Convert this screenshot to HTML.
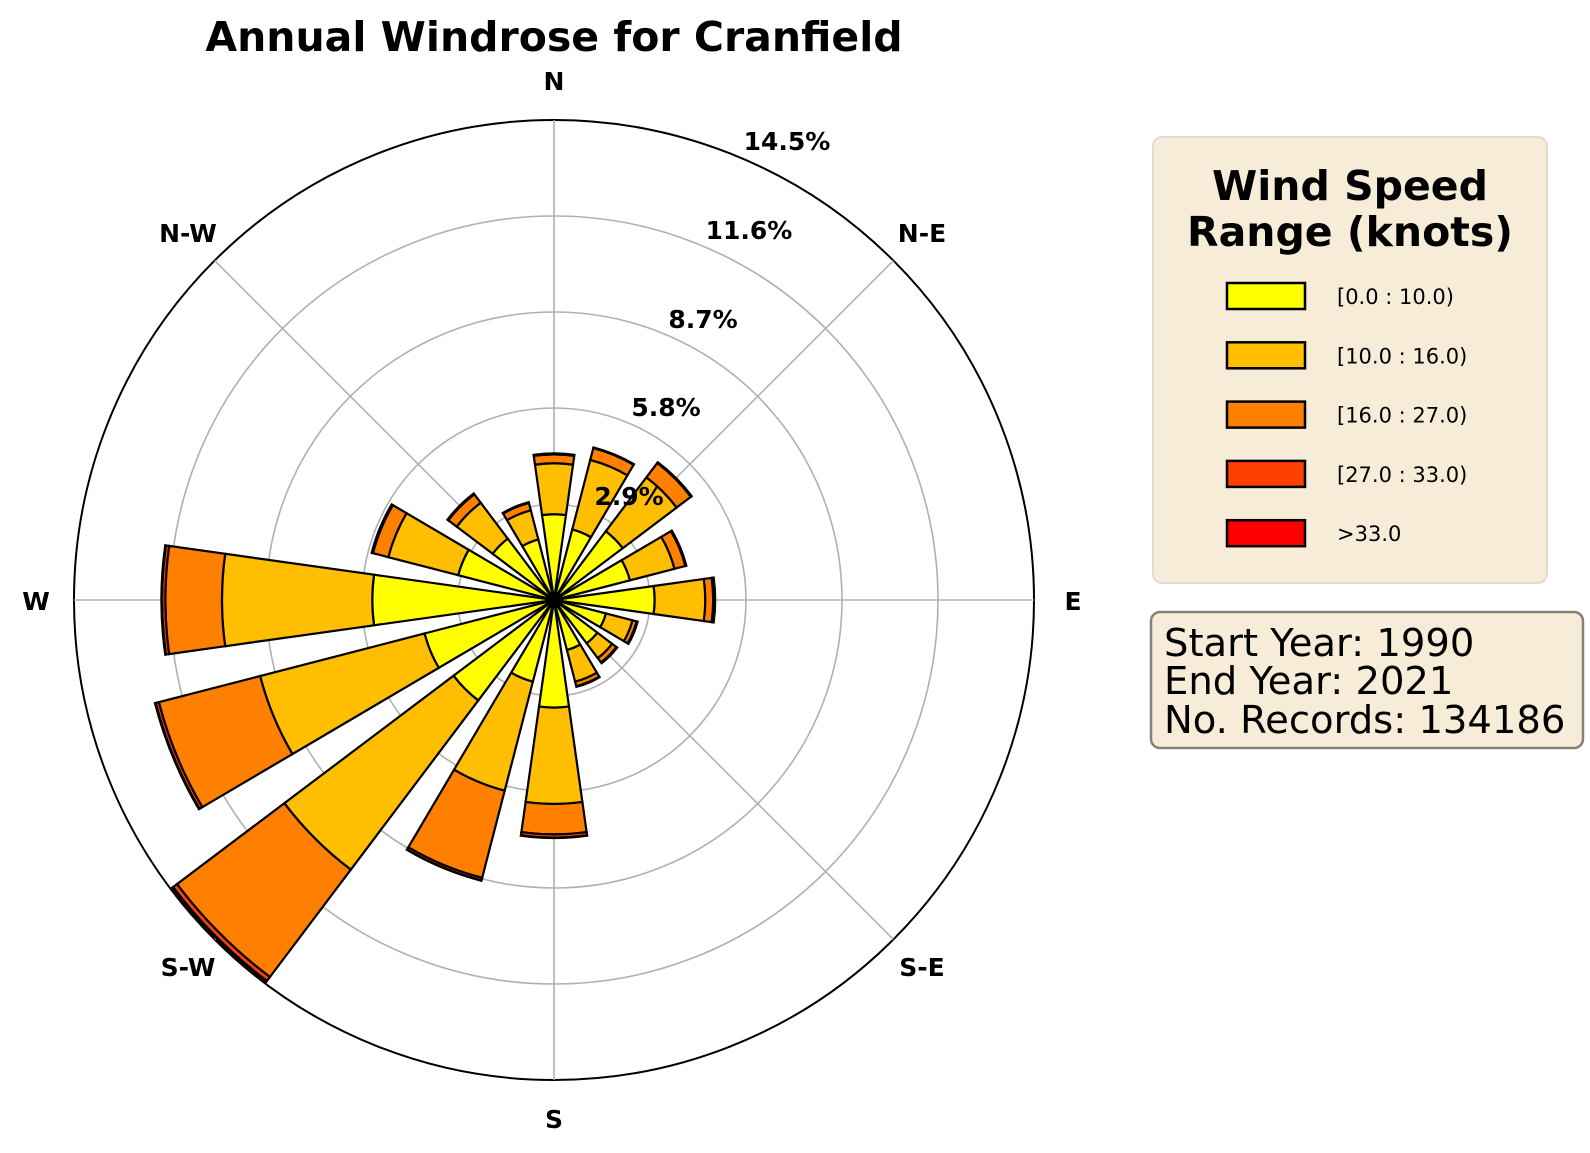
<!DOCTYPE html>
<html><head><meta charset="utf-8"><style>
html,body{margin:0;padding:0;background:#fff;}
svg{display:block;font-family:"DejaVu Sans","Liberation Sans",sans-serif;}
</style></head><body>
<svg id="chart" width="1590" height="1153" viewBox="0 0 1590 1153">
<text x="554" y="51" text-anchor="middle" font-size="41" font-weight="bold">Annual Windrose for Cranfield</text>
<g id="grid"></g>
<g id="bars"></g>
<g id="labels"></g>
<g>
<rect x="1153" y="137" width="394" height="446" rx="9" fill="#f7ecd8" stroke="#e0dcd4" stroke-width="2"/>
<text x="1350" y="200" text-anchor="middle" font-size="41" font-weight="bold">Wind Speed</text>
<text x="1350" y="246" text-anchor="middle" font-size="41" font-weight="bold">Range (knots)</text>
<g id="legend-entries"></g>
</g>
<g>
<rect x="1151" y="612" width="432" height="136" rx="9" fill="#f7ecd8" stroke="#858078" stroke-width="2.5"/>
<text x="1164" y="656" font-size="38.5">Start Year: 1990</text>
<text x="1164" y="694" font-size="38.5">End Year: 2021</text>
<text x="1164" y="733" font-size="38.5">No. Records: 134186</text>
</g>
</svg>
<script>
const directions = ["N","NNE","NE","ENE","E","ESE","SE","SSE","S","SSW","SW","WSW","W","WNW","NW","NNW"];
const speedBins = ["[0.0 : 10.0)","[10.0 : 16.0)","[16.0 : 27.0)","[27.0 : 33.0)",">33.0"];
const bin0to10 = [2.59,2.2,2.6,2.37,3.04,1.62,1.64,1.56,3.25,2.55,3.8,4.04,5.49,2.99,2.32,1.89];
const bin10to16 = [1.54,2.17,2.04,1.39,1.53,0.83,0.56,0.99,2.91,3.40,6.40,5.13,4.54,2.18,1.36,0.91];
const bin16to27 = [0.27,0.37,0.54,0.34,0.24,0.13,0.16,0.14,0.92,2.72,4.06,3.16,1.71,0.48,0.32,0.23];
const bin27to33 = [0.03,0.02,0.03,0.03,0.05,0.03,0.03,0.02,0.10,0.08,0.15,0.10,0.10,0.04,0.03,0.02];
const binOver33 = [0,0,0,0,0.01,0,0,0,0.01,0.01,0.03,0.02,0.02,0,0,0];
const ringTicks = [2.9,5.8,8.7,11.6,14.5];
const ringLabels = ["2.9%","5.8%","8.7%","11.6%","14.5%"];
const compassLabels = ["N","N-E","E","S-E","S","S-W","W","N-W"];

const NS="http://www.w3.org/2000/svg";
const CX=554, CY=600, R=480, RMAX=14.5, WIDTH_DEG=16;
const colors=["#ffff00","#ffbf00","#ff8000","#ff4000","#ff0000"];
const rScale=v=>v/RMAX*R;
const pt=(deg,r)=>{const a=deg*Math.PI/180;return [CX+r*Math.sin(a),CY-r*Math.cos(a)];};
function mk(tag,attrs,parent){const e=document.createElementNS(NS,tag);for(const k in attrs)e.setAttribute(k,attrs[k]);parent.appendChild(e);return e;}

const grid=document.getElementById('grid');
ringTicks.forEach((t,i)=>{
  const c=mk('circle',{cx:CX,cy:CY,r:rScale(t),fill:'none',stroke:i===ringTicks.length-1?'#000':'#b0b0b0','stroke-width':i===ringTicks.length-1?2:1.6},grid);
  
  
});
for(let k=0;k<8;k++){
  const [x,y]=pt(k*45,R);
  const l=mk('line',{x1:CX,y1:CY,x2:x,y2:y,stroke:'#b0b0b0','stroke-width':1.6},grid);
  
  
}

const bars=document.getElementById('bars');
const series=[bin0to10,bin10to16,bin16to27,bin27to33,binOver33];
directions.forEach((d,i)=>{
  const ang=i*22.5, a0=ang-WIDTH_DEG/2, a1=ang+WIDTH_DEG/2;
  let cum=0;
  series.forEach((s,j)=>{
    const v=s[i]; if(v<=0){return;}
    const r0=rScale(cum), r1=rScale(cum+v); cum+=v;
    const p1=pt(a0,r0),p2=pt(a0,r1),p3=pt(a1,r1),p4=pt(a1,r0);
    const dd=`M${p1[0]},${p1[1]} L${p2[0]},${p2[1]} A${r1},${r1} 0 0 1 ${p3[0]},${p3[1]} L${p4[0]},${p4[1]} `+(r0>0?`A${r0},${r0} 0 0 0 ${p1[0]},${p1[1]} Z`:'Z');
    const p=mk('path',{d:dd,fill:colors[j],stroke:'#000','stroke-width':2.2,'stroke-linejoin':'miter'},bars);
    
    
  });
});

const labels=document.getElementById('labels');
const compassPos=[[554,90],[922,242],[1073,610],[922,976],[554,1128],[188,976],[36,610],[188,242]];
compassLabels.forEach((t,i)=>{
  const e=mk('text',{x:compassPos[i][0],y:compassPos[i][1],'text-anchor':'middle','font-size':25,'font-weight':'bold'},labels);
  e.textContent=t;
  
  
});
const radialPos=[[629,496],[666,407],[703,319],[749,230],[787,141]];
ringTicks.forEach((t,i)=>{
  const e=mk('text',{x:radialPos[i][0],y:radialPos[i][1]+9,'text-anchor':'middle','font-size':25,'font-weight':'bold'},labels);
  e.textContent=ringLabels[i];
  
  
});

const le=document.getElementById('legend-entries');
speedBins.forEach((b,i)=>{
  const y=296+i*59.3;
  const r=mk('rect',{x:1227,y:y-13,width:78,height:26,fill:colors[i],stroke:'#000','stroke-width':2.5},le);
  
  
  const t=mk('text',{x:1337,y:y+8,'font-size':21},le);
  t.textContent=b;
  
  
});
</script>
</body></html>
